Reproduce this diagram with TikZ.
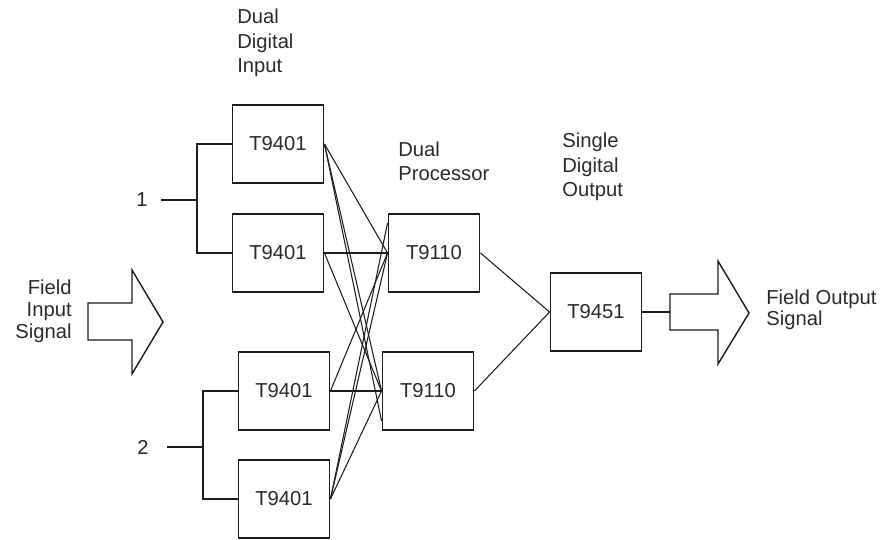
\documentclass[tikz,border=0pt]{standalone}
\usepackage{fontspec}
\setmainfont{Liberation Sans}
\usepackage{tikz}
\usetikzlibrary{calc}
\definecolor{ink}  {HTML}{1C1C1C}
\definecolor{label}{HTML}{2A2A2A}
\tikzset{
  unit/.style     = {draw=ink, line width=1.1pt, minimum width=1.82cm,
                     minimum height=1.56cm, inner sep=0pt, text=label,
                     font=\fontsize{11.5}{14}\selectfont},
  wire/.style     = {draw=ink, line width=0.6pt},
  lbl/.style      = {font=\fontsize{11.5}{14}\selectfont, text=label,
                     align=left, inner sep=0pt},
  bigarrow/.style = {draw=ink, line width=0.8pt, fill=white, line join=miter},
}

\begin{document}
\begin{tikzpicture}[x=0.02cm, y=-0.02cm]
  \useasboundingbox (0,0) rectangle (892,540);

  % column titles (base = last line)
  \node[lbl, anchor=base west] (tin)  at (237,73)  {Dual\\Digital\\Input};
  \node[lbl, anchor=base west] (tcpu) at (398,181) {Dual\\Processor};
  \node[lbl, anchor=base west] (tout) at (562,197) {Single\\Digital\\Output};

  % input units
  \node[unit] (din1a) at (278,144) {T9401};
  \node[unit] (din1b) at (278,253) {T9401};
  \node[unit] (din2a) at (284,391) {T9401};
  \node[unit] (din2b) at (284,499) {T9401};

  % processors and output
  \node[unit] (cpu1) at (434,253) {T9110};
  \node[unit] (cpu2) at (428,391) {T9110};
  \node[unit] (dout) at (596,312) {T9451};

  % channel 1 and 2 feeds
  \node[lbl] (num1) at (142,200) {1};
  \coordinate (j1) at (197,200);
  \draw[wire] (din1a.west) -| (j1) |- (din1b.west);
  \draw[wire] ($(num1)+(19,0)$) -- (j1);

  \node[lbl] (num2) at (143,447) {2};
  \coordinate (j2) at (203,447);
  \draw[wire] (din2a.west) -| (j2) |- (din2b.west);
  \draw[wire] ($(num2)+(24,0)$) -- (j2);

  % cross wiring
  \foreach \src in {din1a,din1b,din2a,din2b}
    \foreach \dst in {cpu1,cpu2}
      \draw[wire] (\src.east) -- (\dst.west);
  \draw[wire] (din1a.east) -- ($(cpu2.west)+(0,30)$);
  \draw[wire] (din2b.east) -- ($(cpu1.west)+(0,-30)$);

  \draw[wire] (cpu1.east) -- (dout.west);
  \draw[wire] (cpu2.east) -- (dout.west);

  % field signals
  \draw[bigarrow] (88,303) -- (132,303) -- (132,270) -- (163,322)
    -- (132,374) -- (132,340) -- (88,340) -- cycle;
  \node[lbl, align=right, anchor=base east, font=\fontsize{11.5}{12.3}\selectfont]
    (fin) at (72,338) {Field\\Input\\Signal};

  \coordinate (otail) at (670,312);
  \draw[wire] (dout.east) -- (otail);
  \draw[bigarrow] (otail) -- (670,294) -- (718,294) -- (718,261) -- (749,313)
    -- (718,364) -- (718,330) -- (670,330) -- cycle;
  \node[lbl, anchor=base west, font=\fontsize{11.5}{12.5}\selectfont]
    (fout) at (766,326) {Field Output\\Signal};
\end{tikzpicture}
\end{document}
